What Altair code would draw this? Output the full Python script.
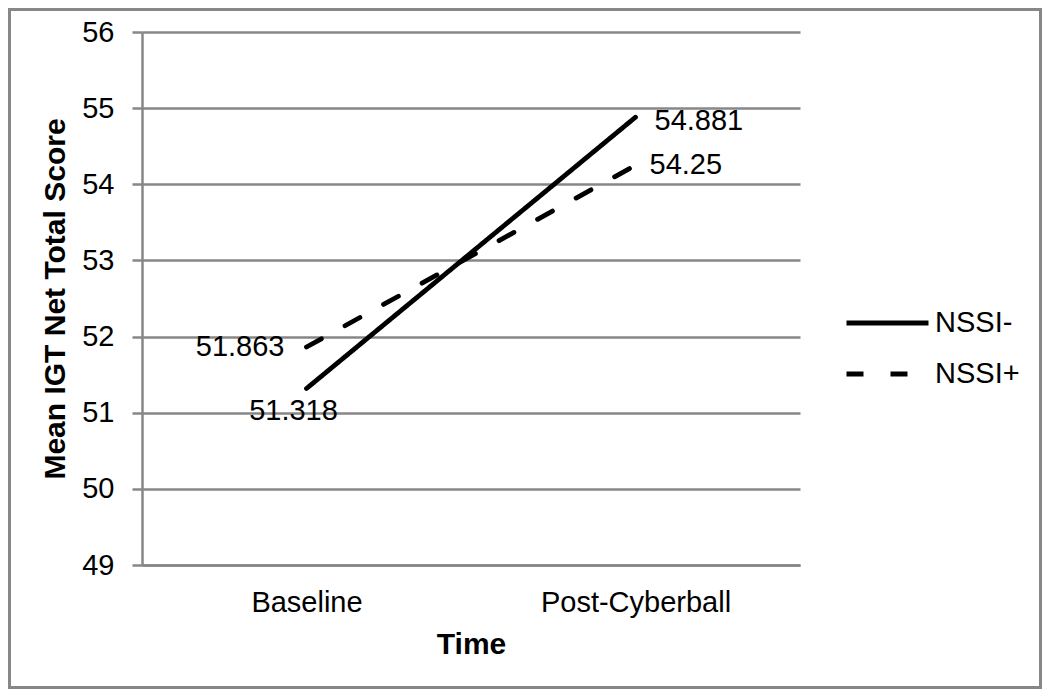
import altair as alt
import pandas as pd

times = ["Baseline", "Post-Cyberball"]
groups = ["NSSI-", "NSSI+"]
nssi_minus = [51.318, 54.881]
nssi_plus = [51.863, 54.25]
y_ticks = [49, 50, 51, 52, 53, 54, 55, 56]

rows = []
for t, a, b in zip(times, nssi_minus, nssi_plus):
    rows.append({"Time": t, "Group": "NSSI-", "Score": a, "Label": f"{a:g}"})
    rows.append({"Time": t, "Group": "NSSI+", "Score": b, "Label": f"{b:g}"})
df = pd.DataFrame(rows)

FONT = "Liberation Sans"
GRAY = "#878787"
W, H = 658, 533
PAD_L, PAD_T, PAD_R, PAD_B = 134, 24, 242, 124
LFS = 29
TFS = 30

x_enc = alt.X(
    "Time:N",
    sort=times,
    scale=alt.Scale(type="point", padding=0.5),
    axis=alt.Axis(
        title="Time",
        titleFontSize=TFS,
        titleFontWeight="bold",
        titleFont=FONT,
        titleColor="black",
        titleX=W / 2,
        titleY=88,
        titleBaseline="alphabetic",
        labelFontSize=LFS,
        labelFont=FONT,
        labelColor="black",
        labelPadding=23,
        labelAngle=0,
        labelLimit=400,
        ticks=False,
        tickSize=0,
        domainColor=GRAY,
        domainWidth=2.5,
        grid=False,
    ),
)
y_enc = alt.Y(
    "Score:Q",
    scale=alt.Scale(domain=[49, 56], nice=False, zero=False),
    axis=alt.Axis(
        title="Mean IGT Net Total Score",
        titleFontSize=TFS,
        titleFontWeight="bold",
        titleFont=FONT,
        titleColor="black",
        titleAngle=-90,
        titleX=-78,
        titleY=H / 2,
        titleBaseline="alphabetic",
        titleAlign="center",
        values=y_ticks,
        format="d",
        labelFontSize=LFS,
        labelFont=FONT,
        labelColor="black",
        labelPadding=18,
        tickSize=10,
        tickColor=GRAY,
        tickWidth=2.5,
        domainColor=GRAY,
        domainWidth=2.5,
        grid=True,
        gridColor=GRAY,
        gridWidth=2.5,
    ),
)

lines = alt.Chart(df).mark_line(strokeWidth=4.8, strokeCap="round", color="black").encode(
    x=x_enc,
    y=y_enc,
    strokeDash=alt.StrokeDash(
        "Group:N",
        sort=groups,
        scale=alt.Scale(domain=groups, range=[[1, 0], [17, 27]]),
        legend=alt.Legend(
            title=None,
            orient="none",
            legendX=702,
            legendY=276,
            symbolType="stroke",
            symbolSize=6724,
            symbolStrokeWidth=4.8,
            symbolStrokeColor="black",
            labelFontSize=LFS,
            labelFont=FONT,
            labelColor="black",
            labelOffset=4,
            clipHeight=30,
            rowPadding=21,
            padding=0,
        ),
    ),
)

def label_layer(group, time, dx, dy, align):
    sub = df[(df["Group"] == group) & (df["Time"] == time)]
    return alt.Chart(sub).mark_text(
        font=FONT, fontSize=LFS, color="black", align=align, baseline="middle", dx=dx, dy=dy
    ).encode(x=alt.X("Time:N", sort=times), y="Score:Q", text="Label:N")

labels = [
    label_layer("NSSI+", "Baseline", -22, 0, "right"),
    label_layer("NSSI-", "Baseline", -13, 22, "center"),
    label_layer("NSSI-", "Post-Cyberball", 19, 4, "left"),
    label_layer("NSSI+", "Post-Cyberball", 14, 0, "left"),
]

frame = alt.Chart(alt.Data(values=[{"a": 1}])).mark_rect(
    fill="transparent", stroke=GRAY, strokeWidth=3
).encode(
    x=alt.value(-PAD_L + 1.5),
    x2=alt.value(W + PAD_R - 1.5),
    y=alt.value(-PAD_T + 1.5),
    y2=alt.value(H + PAD_B - 1.5),
)

chart = alt.layer(lines, *labels, frame).properties(
    width=W,
    height=H,
    autosize=alt.AutoSizeParams(type="none"),
    padding={"left": PAD_L, "top": PAD_T, "right": PAD_R, "bottom": PAD_B},
    background="white",
).configure_view(stroke="transparent")

chart.save("out.html", embed_options={"renderer": "svg", "actions": False})
